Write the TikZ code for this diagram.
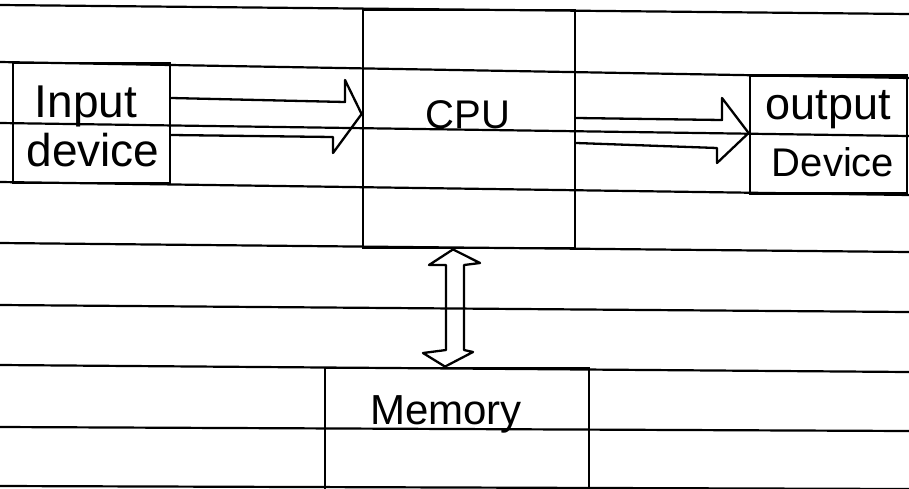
\documentclass[tikz,border=0pt]{standalone}
\usepackage{fontspec}
\setmainfont{Liberation Sans}
\begin{document}
\begin{tikzpicture}[x=1pt,y=-1pt,
  rule/.style={line width=2.2pt, black},
  block/.style={draw, line width=2.8pt, rectangle, inner sep=0pt},
  word/.style={font=\fontsize{#1}{#1}\selectfont, anchor=base, inner sep=0pt},
  word/.default=40,
  hollow/.style={draw, line width=2.3pt, line join=round, line cap=round}
]
\useasboundingbox (0,0) rectangle (909,488);
\clip (0,0) rectangle (909,488);
\fill[white] (0,0) rectangle (909,488);

% ruled lines of the sheet
\foreach \a/\b in {5/14, 62/78, 123/136, 182/195, 243/252, 305/312, 365/372, 427/431, 486/489}
  \draw[rule] (0,\a) -- (909,\b);

% blocks
\node[block, minimum width=157pt, minimum height=120pt] (input)  at (91.5,123) {};
\node[block, minimum width=212pt, minimum height=238pt] (cpu)    at (469,129)  {};
\node[block, minimum width=157pt, minimum height=118pt] (output) at (828.5,134.5) {};
\node[block, minimum width=264pt, minimum height=160pt] (memory) at (457,448)  {};

% labels
\node[word=46] (inA)  at (86,117)  {Input};
\node[word=46] (inB)  at (93,166)  {device};
\node[word=40] (cpuT) at (468,128) {CPU};
\node[word=45] (outA) at (828,119) {output};
\node[word=40] (outB) at (833,176) {Device};
\node[word=42] (memT) at (446,424) {Memory};

% hollow arrow: input -> CPU
\draw[hollow] (input.east |- 0,98) -- (345,102) -- (345,80) -- (cpu.west |- 0,114)
  -- (333,153) -- (333,137) -- (input.east |- 0,135);

% hollow arrow: CPU -> output
\draw[hollow] (cpu.east |- 0,118) -- (722,120) -- (722,98) -- (output.west |- 0,133)
  -- (717,163) -- (717,148) -- (cpu.east |- 0,143);

% hollow double arrow: CPU <-> memory
\draw[hollow] (cpu.south -| 453,0) -- (480,263) -- (464,265) -- (464,350) -- (473,352)
  -- (memory.north -| 445,0) -- (423,353) -- (446,350) -- (446,265) -- (429,265) -- cycle;
\end{tikzpicture}
\end{document}
